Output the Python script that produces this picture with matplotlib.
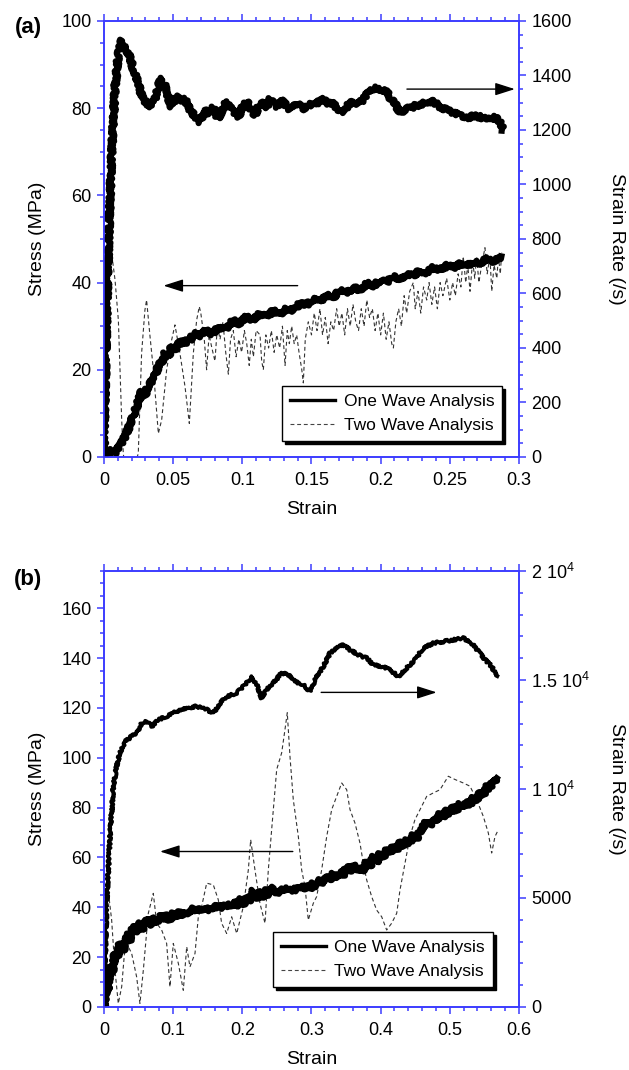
import numpy as np
import matplotlib
matplotlib.use("Agg")
import matplotlib.pyplot as plt
from matplotlib.ticker import MultipleLocator, FixedLocator, FixedFormatter
from matplotlib.lines import Line2D

plt.rcParams['font.family'] = ['Liberation Sans', 'DejaVu Sans']
plt.rcParams['mathtext.default'] = 'regular'

# ---------------- panel (a) data ----------------
rate1_a_x = [0, 0.0014, 0.0031, 0.0055, 0.0080, 0.0105, 0.0128, 0.0150, 0.0188, 0.022,
             0.0248, 0.0270, 0.0284, 0.031, 0.0333, 0.035, 0.0369, 0.0395, 0.0417, 0.0435,
             0.0453, 0.047, 0.0489, 0.051, 0.0537, 0.056, 0.0586, 0.061, 0.0634, 0.0665,
             0.0694, 0.072, 0.0742, 0.0765, 0.079, 0.081, 0.0826, 0.086, 0.0887, 0.091,
             0.0935, 0.0955, 0.0971, 0.100, 0.1032, 0.106, 0.1092, 0.112, 0.1152, 0.1175,
             0.1200, 0.1225, 0.1249, 0.1275, 0.1297, 0.1325, 0.1357, 0.139, 0.1417, 0.145,
             0.1477, 0.1513, 0.155, 0.1586, 0.162, 0.1658, 0.169, 0.1730, 0.1765, 0.1802,
             0.184, 0.1875, 0.190, 0.1923, 0.1950, 0.1971, 0.2010, 0.2044, 0.2075, 0.2104,
             0.213, 0.2152, 0.2185, 0.2212, 0.2250, 0.2284, 0.233, 0.2381, 0.242, 0.2453,
             0.249, 0.2525, 0.257, 0.2622, 0.267, 0.2718, 0.275, 0.2790, 0.2825, 0.2851,
             0.2870, 0.2887]
rate1_a_y = [0, 380, 750, 1115, 1360, 1480, 1530, 1510, 1465, 1410,
             1370, 1330, 1310, 1300, 1285, 1300, 1315, 1365, 1390, 1370,
             1345, 1310, 1285, 1310, 1322, 1305, 1312, 1285, 1265, 1245,
             1230, 1255, 1275, 1262, 1282, 1258, 1242, 1280, 1305, 1282,
             1272, 1258, 1248, 1282, 1305, 1278, 1255, 1290, 1298, 1282,
             1315, 1296, 1285, 1302, 1305, 1280, 1278, 1298, 1288, 1278,
             1295, 1290, 1302, 1312, 1298, 1296, 1278, 1265, 1292, 1304,
             1295, 1312, 1330, 1340, 1352, 1355, 1345, 1340, 1312, 1296,
             1272, 1266, 1280, 1278, 1290, 1292, 1302, 1305, 1288, 1280,
             1270, 1262, 1256, 1243, 1252, 1248, 1242, 1238, 1246, 1236,
             1220, 1200]

stress1_a_x = [0, 0.002, 0.005, 0.0075, 0.0096, 0.0128, 0.0164, 0.0200, 0.0236, 0.0272,
               0.0296, 0.0320, 0.0357, 0.0393, 0.0417, 0.0441, 0.0465, 0.0489, 0.052, 0.0549,
               0.058, 0.0610, 0.064, 0.0670, 0.070, 0.0742, 0.078, 0.0839, 0.088, 0.0935,
               0.098, 0.1032, 0.108, 0.1128, 0.118, 0.1224, 0.127, 0.1321, 0.137, 0.1417,
               0.146, 0.1510, 0.1561, 0.161, 0.1656, 0.1706, 0.175, 0.180, 0.1851, 0.190,
               0.1950, 0.1995, 0.204, 0.209, 0.2140, 0.219, 0.2235, 0.2284, 0.233, 0.238,
               0.2429, 0.248, 0.2525, 0.2573, 0.262, 0.267, 0.2718, 0.277, 0.282, 0.2875]
stress1_a_y = [0, 1.0, 1.4, 0.9, 1.6, 3.1, 5.4, 8.5, 11.5, 15.0,
               14.2, 16.5, 17.6, 20.9, 21.8, 23.8, 23.0, 25.3, 24.6, 26.5,
               25.8, 27.6, 26.9, 28.4, 27.8, 29.2, 28.3, 30.0, 29.4, 31.3,
               30.6, 32.2, 31.4, 33.0, 32.3, 33.5, 32.8, 34.1, 33.6, 35.3,
               34.8, 36.2, 35.7, 37.1, 36.6, 38.2, 37.5, 38.8, 38.4, 39.8,
               39.3, 40.5, 40.0, 41.3, 40.9, 42.0, 41.5, 42.8, 42.2, 43.4,
               42.9, 43.9, 43.4, 44.3, 43.8, 44.7, 44.5, 45.4, 44.9, 45.8]

stress2_a_x = [0, 0.0015, 0.0031, 0.0055, 0.0080, 0.0104, 0.0128, 0.0140, 0.0190, 0.0248,
               0.0272, 0.0296, 0.0308, 0.0333, 0.0357, 0.0393, 0.0417, 0.0453, 0.0489, 0.0513,
               0.0549, 0.0586, 0.0617, 0.0646, 0.0670, 0.0689,
               0.0700, 0.0725, 0.0742, 0.0760, 0.0780, 0.0802, 0.0820, 0.0839, 0.0860, 0.0880,
               0.0899, 0.0915, 0.0935, 0.0955, 0.0975, 0.0995, 0.1015, 0.1032, 0.1050, 0.1065,
               0.1080, 0.1100, 0.1128, 0.1140, 0.1152, 0.1170, 0.1190, 0.1210, 0.1230, 0.1249,
               0.1270, 0.1290, 0.1309, 0.1325, 0.1340, 0.1357, 0.1375, 0.1393, 0.1410, 0.1430,
               0.1441, 0.1455, 0.1477, 0.1500, 0.1520, 0.1540, 0.1561, 0.1580, 0.1600, 0.1620,
               0.1640, 0.1660, 0.1682, 0.1700, 0.1720, 0.1740, 0.1760, 0.1780, 0.1800, 0.1820,
               0.1840, 0.1860, 0.1880, 0.1900, 0.1920, 0.1940, 0.1960, 0.1980, 0.2000, 0.2020,
               0.2040, 0.2060, 0.2080, 0.2092, 0.2110, 0.2130, 0.2150, 0.2170, 0.2188, 0.2210,
               0.2236, 0.2250, 0.2270, 0.2290, 0.2310, 0.2333, 0.2350, 0.2370, 0.2390, 0.2410,
               0.2430, 0.2450, 0.2477, 0.2500, 0.2520, 0.2540, 0.2560, 0.2580, 0.2597, 0.2615,
               0.2630, 0.2646, 0.2665, 0.2680, 0.2694, 0.2710, 0.2730, 0.2754, 0.2770, 0.2790,
               0.2803, 0.2820, 0.2840, 0.2851, 0.2865, 0.2875]
stress2_a_y = [0, 22, 39, 46.8, 40.6, 31.4, 8.5, 0.5, -5, 0.8,
               23.8, 33.7, 36, 27.6, 20, 5.4, 8.5, 20, 26.8, 30.3,
               23.8, 16.1, 7.7, 23.8, 31.4, 34.5,
               33, 27, 20, 28, 25, 22, 30, 27, 31, 24,
               19, 27, 29, 23, 27, 24, 29, 26, 21, 27,
               23, 29, 28, 22, 20, 28, 25, 29, 24, 28,
               25, 30, 21, 29, 26, 30, 26, 28, 24, 20,
               17, 27, 31, 28, 33, 29, 34, 28, 32, 26,
               31, 29, 34, 30, 33, 28, 34, 30, 35, 31,
               29, 34, 30, 36, 32, 34, 29, 33, 28, 33,
               27, 31, 26, 25, 31, 34, 30, 37, 33, 38,
               40, 34, 38, 33, 39, 36, 40, 35, 39, 34,
               40, 37, 41, 36, 40, 37, 42, 39, 46, 40,
               44, 38, 45, 41, 46, 40, 44, 48, 42, 46,
               38, 44, 41, 46, 42, 47]

# ---------------- panel (b) data ----------------
rate1_b_x = [0, 0.0039, 0.0087, 0.0135, 0.0183, 0.0231, 0.0304, 0.0400, 0.0472, 0.0545,
             0.0617, 0.0690, 0.0786, 0.0906, 0.1051, 0.1196, 0.1340, 0.1485, 0.1581, 0.1677,
             0.1774, 0.1919, 0.2063, 0.2135, 0.2208, 0.2280, 0.2352, 0.2448, 0.2569, 0.2665,
             0.2761, 0.2882, 0.2978, 0.3075, 0.3171, 0.3268, 0.3364, 0.3460, 0.3557, 0.3677,
             0.3798, 0.3894, 0.4015, 0.4135, 0.4256, 0.4376, 0.4496, 0.4617, 0.4761, 0.4906,
             0.5051, 0.5195, 0.5316, 0.5412, 0.5508, 0.5605, 0.5677]
rate1_b_y = [0, 4780, 7830, 10120, 11040, 11650, 12180, 12410, 12570, 13030,
             13100, 12870, 13180, 13330, 13560, 13710, 13790, 13640, 13480, 13940,
             14240, 14400, 14860, 15160, 14780, 14170, 14550, 14860, 15320, 15240,
             14930, 14780, 14470, 15160, 15620, 16230, 16460, 16610, 16380, 16150,
             16000, 15700, 15620, 15470, 15160, 15550, 15930, 16460, 16690, 16760,
             16840, 16920, 16690, 16310, 15930, 15620, 15160]

stress1_b_x = [0, 0.002, 0.0039, 0.006, 0.0087, 0.012, 0.0159, 0.019, 0.0231, 0.028,
               0.0328, 0.037, 0.0424, 0.047, 0.0520, 0.0569, 0.062, 0.0665, 0.0713, 0.076,
               0.081, 0.0858, 0.0906, 0.095, 0.1002, 0.105, 0.1099, 0.115, 0.1195, 0.1245,
               0.1292, 0.134, 0.1388, 0.1437, 0.1485, 0.153, 0.1581, 0.163, 0.1677, 0.172,
               0.1774, 0.182, 0.1870, 0.192, 0.1967, 0.2015, 0.2063, 0.211, 0.2160, 0.2208,
               0.2255, 0.2304, 0.2352, 0.240, 0.2449, 0.2497, 0.2545, 0.2593, 0.2641, 0.269,
               0.2738, 0.2786, 0.2834, 0.2882, 0.2930, 0.2978, 0.3026, 0.3075, 0.3123, 0.317,
               0.3220, 0.3268, 0.3316, 0.3364, 0.3412, 0.3460, 0.351, 0.3557, 0.3605, 0.3653,
               0.3701, 0.3749, 0.380, 0.3846, 0.3894, 0.3942, 0.399, 0.4039, 0.4087, 0.4135,
               0.4183, 0.4232, 0.428, 0.4328, 0.4376, 0.4424, 0.4473, 0.4521, 0.4569, 0.4617,
               0.4666, 0.4714, 0.4762, 0.481, 0.4858, 0.4906, 0.4955, 0.5003, 0.5051, 0.510,
               0.5148, 0.5196, 0.5244, 0.5292, 0.534, 0.5388, 0.5436, 0.5485, 0.5533, 0.5581,
               0.5629, 0.5677, 0.5701]
stress1_b_y = [0, 4.0, 9.0, 6.5, 16.0, 13.0, 22.0, 19.5, 25.5, 22.5,
               29.5, 26.5, 32.5, 29.8, 33.8, 31.0, 35.5, 32.5, 36.0, 33.8,
               36.8, 34.8, 37.2, 35.0, 37.6, 36.0, 38.5, 37.0, 38.2, 37.6,
               39.6, 38.2, 39.3, 38.6, 40.2, 39.0, 40.8, 39.5, 41.2, 39.8,
               41.5, 40.0, 42.4, 40.0, 43.6, 41.0, 44.5, 42.2, 46.8, 43.5,
               46.5, 43.8, 47.0, 45.0, 48.0, 45.5, 47.6, 46.2, 47.8, 46.4,
               48.2, 46.8, 48.5, 47.0, 48.8, 47.4, 49.6, 48.6, 51.0, 49.5,
               52.6, 50.8, 53.5, 51.8, 54.6, 52.5, 56.8, 54.0, 57.2, 54.5,
               56.0, 54.2, 58.5, 56.2, 60.5, 58.0, 61.5, 60.0, 63.5, 61.8,
               64.5, 63.0, 66.5, 64.5, 67.0, 66.0, 69.0, 67.5, 70.5, 72.5,
               74.5, 72.8, 75.8, 74.5, 77.5, 76.0, 79.0, 77.5, 80.5, 79.0,
               81.5, 80.0, 82.5, 81.0, 84.0, 83.0, 86.0, 85.0, 88.8, 87.5,
               91.5, 90.5, 91.3]

stress2_b_x = [0, 0.0039, 0.0077, 0.0111, 0.0159, 0.0207, 0.0256, 0.0304, 0.0352, 0.0400,
               0.0472, 0.0520, 0.0569, 0.0641, 0.0713, 0.0762, 0.0834, 0.0906, 0.0954, 0.1002,
               0.1075, 0.1147, 0.1196, 0.1243, 0.1316, 0.1364, 0.1412, 0.1485, 0.1581, 0.1653,
               0.1701, 0.1774, 0.1846, 0.1919, 0.2015, 0.2087, 0.2121, 0.2183, 0.2255, 0.2328,
               0.2376, 0.2424, 0.2497, 0.2569, 0.2617, 0.2650, 0.2689, 0.2737, 0.2810, 0.2858,
               0.2906, 0.2954, 0.3026, 0.3075, 0.3147, 0.3220, 0.3292, 0.3364, 0.3437, 0.3509,
               0.3557, 0.3629, 0.3701, 0.3749, 0.3798, 0.3870, 0.3942, 0.4015, 0.4087, 0.4159,
               0.4232, 0.4280, 0.4352, 0.4424, 0.4496, 0.4569, 0.4665, 0.4761, 0.4858, 0.4978,
               0.5075, 0.5195, 0.5292, 0.5388, 0.5484, 0.5557, 0.5605, 0.5653, 0.5701]
stress2_b_y = [0, 34.9, 43.0, 34.9, 14.8, 1.4, 8.1, 24.2, 24.2, 21.5,
               12.1, 1.4, 14.8, 37.6, 45.6, 33.6, 30.9, 25.5, 8.1, 25.5,
               17.5, 6.7, 24.2, 16.1, 21.5, 36.2, 40.3, 49.7, 49.0, 43.0,
               33.6, 29.5, 36.2, 29.5, 40.3, 55.0, 67.1, 55.0, 41.6, 33.6,
               55.0, 71.1, 95.3, 102.0, 111.4, 118.1, 100.6, 83.2, 68.4, 55.0,
               48.3, 34.9, 41.6, 44.3, 55.0, 68.4, 79.2, 84.5, 89.9, 87.2,
               79.2, 73.8, 65.8, 57.7, 51.0, 44.3, 38.9, 36.2, 30.9, 33.6,
               37.6, 47.0, 57.7, 68.4, 75.2, 79.2, 84.5, 85.9, 87.2, 92.6,
               91.3, 89.9, 88.6, 83.2, 76.5, 69.8, 61.8, 68.4, 71.1]

# arrows: (tail x, head x, level) in data coordinates of the axis they point to
arrows_a = {'rate': (0.219, 0.297, 1350), 'stress': (0.140, 0.043, 39.3)}
arrows_b = {'rate': (0.314, 0.481, 14430), 'stress': (0.273, 0.081, 62.4)}

strain_a_ticks = [0, 0.05, 0.1, 0.15, 0.2, 0.25, 0.3]
strain_a_labels = ['0', '0.05', '0.1', '0.15', '0.2', '0.25', '0.3']
strain_b_ticks = [0, 0.1, 0.2, 0.3, 0.4, 0.5, 0.6]
strain_b_labels = ['0', '0.1', '0.2', '0.3', '0.4', '0.5', '0.6']
rate_b_ticks = [0, 5000, 10000, 15000, 20000]
rate_b_labels = ['0', '5000', '1 10$^4$', '1.5 10$^4$', '2 10$^4$']

BLUE = '#3c3cff'
DASH = (0, (3.5, 2.5))


def style_axes(ax, ax2):
    for a in (ax, ax2):
        for s in a.spines.values():
            s.set_color(BLUE)
            s.set_linewidth(1.2)
    ax.tick_params(axis='both', which='both', direction='out', color=BLUE,
                   labelsize=13, width=1.1, pad=4)
    ax.tick_params(axis='x', which='both', top=True, pad=6)
    ax.tick_params(which='major', length=5)
    ax.tick_params(which='minor', length=2.8)
    ax2.tick_params(axis='y', which='both', direction='out', color=BLUE,
                    labelsize=13, width=1.1, pad=4)
    ax2.tick_params(which='major', length=5)
    ax2.tick_params(which='minor', length=2.8)


def add_arrow(ax, x0, x1, y):
    ax.annotate('', xy=(x1, y), xytext=(x0, y),
                arrowprops=dict(arrowstyle='-|>,head_length=1.0,head_width=0.32',
                                color='black', lw=1.0, shrinkA=0, shrinkB=0,
                                mutation_scale=12))


def add_legend(ax, anchor):
    handles = [Line2D([], [], color='black', lw=2.4),
               Line2D([], [], color='#444444', lw=0.8, ls=DASH)]
    leg = ax.legend(handles, ['One Wave Analysis', 'Two Wave Analysis'],
                    loc='lower right', bbox_to_anchor=anchor, borderaxespad=0,
                    fontsize=12.5, handlelength=2.6, handletextpad=0.5,
                    labelspacing=0.5, borderpad=0.45, fancybox=False,
                    shadow={'color': 'black', 'alpha': 1}, framealpha=1)
    leg.get_frame().set_edgecolor('black')
    leg.get_frame().set_linewidth(1.0)
    leg.set_zorder(10)


def noisy(line, scale):
    # rough, hand-digitised look of the measured signal
    line.set_sketch_params(scale=scale, length=3, randomness=4)


fig = plt.figure(figsize=(6.29, 10.70), dpi=100)

# ---------------- (a) ----------------
ax = fig.add_axes([0.1653, 0.5729, 0.6598, 0.4075])
ax2 = ax.twinx()
l2, = ax.plot(stress2_a_x, stress2_a_y, color='#333333', lw=0.8, ls=DASH)
l1, = ax.plot(stress1_a_x, stress1_a_y, color='black', lw=4.6)
r1, = ax2.plot(rate1_a_x, rate1_a_y, color='black', lw=4.4)
noisy(l1, 2.0)
noisy(r1, 2.0)
ax.set_xlim(0, 0.3)
ax.set_ylim(0, 100)
ax2.set_ylim(0, 1600)
ax.xaxis.set_major_locator(FixedLocator(strain_a_ticks))
ax.xaxis.set_major_formatter(FixedFormatter(strain_a_labels))
ax.xaxis.set_minor_locator(MultipleLocator(0.01))
ax.yaxis.set_major_locator(MultipleLocator(20))
ax.yaxis.set_minor_locator(MultipleLocator(5))
ax2.yaxis.set_major_locator(MultipleLocator(200))
ax2.yaxis.set_minor_locator(MultipleLocator(50))
style_axes(ax, ax2)
add_arrow(ax2, *arrows_a['rate'])
add_arrow(ax, *arrows_a['stress'])
add_legend(ax2, (0.959, 0.037))

ax.set_ylabel('Stress (MPa)', fontsize=14, va='center')
ax.yaxis.set_label_coords(-0.159, 0.5)
ax2.set_ylabel('Strain Rate (/s)', fontsize=14, rotation=270, va='center')
ax2.yaxis.set_label_coords(1.234, 0.5)
ax.set_xlabel('Strain', fontsize=14, va='center')
ax.xaxis.set_label_coords(0.5, -0.12)
fig.text(28 / 629, 1 - 27 / 1070, '(a)', fontsize=16, fontweight='bold',
         ha='center', va='center')

# ---------------- (b) ----------------
bx = fig.add_axes([0.1653, 0.0589, 0.6598, 0.4075])
bx2 = bx.twinx()
m2, = bx.plot(stress2_b_x, stress2_b_y, color='#333333', lw=0.8, ls=DASH)
m1, = bx.plot(stress1_b_x, stress1_b_y, color='black', lw=4.4)
s1, = bx2.plot(rate1_b_x, rate1_b_y, color='black', lw=2.8)
noisy(m1, 2.0)
noisy(s1, 1.2)
bx.set_xlim(0, 0.6)
bx.set_ylim(0, 175)
bx2.set_ylim(0, 20000)
bx.xaxis.set_major_locator(FixedLocator(strain_b_ticks))
bx.xaxis.set_major_formatter(FixedFormatter(strain_b_labels))
bx.xaxis.set_minor_locator(MultipleLocator(0.02))
bx.yaxis.set_major_locator(MultipleLocator(20))
bx.yaxis.set_minor_locator(MultipleLocator(5))
bx2.yaxis.set_major_locator(FixedLocator(rate_b_ticks))
bx2.yaxis.set_major_formatter(FixedFormatter(rate_b_labels))
bx2.yaxis.set_minor_locator(MultipleLocator(1000))
style_axes(bx, bx2)
add_arrow(bx2, *arrows_b['rate'])
add_arrow(bx, *arrows_b['stress'])
add_legend(bx2, (0.937, 0.046))

bx.set_ylabel('Stress (MPa)', fontsize=14, va='center')
bx.yaxis.set_label_coords(-0.159, 0.5)
bx2.set_ylabel('Strain Rate (/s)', fontsize=14, rotation=270, va='center')
bx2.yaxis.set_label_coords(1.234, 0.5)
bx.set_xlabel('Strain', fontsize=14, va='center')
bx.xaxis.set_label_coords(0.5, -0.12)
fig.text(28 / 629, 1 - 579 / 1070, '(b)', fontsize=16, fontweight='bold',
         ha='center', va='center')

fig.savefig('out.png', dpi=100)
